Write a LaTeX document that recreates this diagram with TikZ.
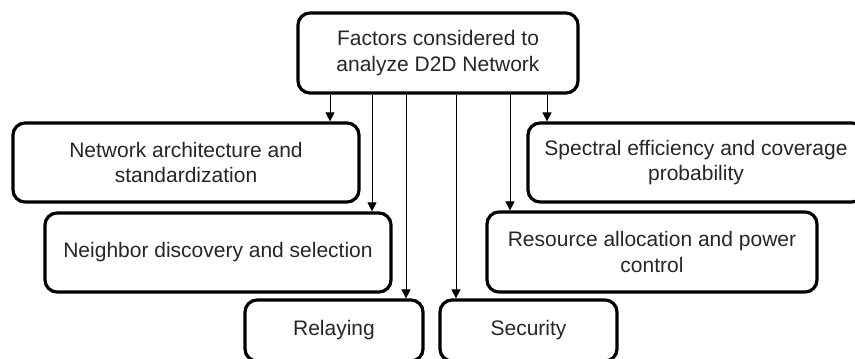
\documentclass[tikz,border=0pt]{standalone}
\usepackage{fontspec}
\setmainfont{Liberation Sans}
\usetikzlibrary{arrows.meta}
\begin{document}
\begin{tikzpicture}[x=1pt,y=-1pt,
  box/.style={draw=black, line width=3.2pt, rounded corners=12pt, align=center,
    font=\fontsize{21}{25.5}\selectfont, text=black!85, inner sep=0pt},
  arr/.style={line width=1pt, -{Triangle[length=9pt,width=9pt]}}]
\useasboundingbox (0,0) rectangle (855,359);
\clip (0,0) rectangle (855,359);
\node[box, minimum width=280pt, minimum height=80pt] (top) at (438,53) {Factors considered to\\analyze D2D Network};
\node[box, minimum width=346pt, minimum height=79pt] (na) at (186,162.5) {Network architecture and\\standardization};
\node[box, minimum width=346pt, minimum height=79pt] (nd) at (218,252.5) {Neighbor discovery and selection};
\node[box, minimum width=178pt, minimum height=61pt] (rel) at (334,330.5) {Relaying};
\node[box, minimum width=336pt, minimum height=79pt] (se) at (696,162.5) {Spectral efficiency and coverage\\probability};
\node[box, minimum width=330pt, minimum height=80pt] (ra) at (652,252) {Resource allocation and power\\control};
\node[box, minimum width=177pt, minimum height=61pt] (sec) at (528.5,330.5) {Security};
\path (top.south) ++(-108,0) coordinate (a1)
      (top.south) ++(-66,0) coordinate (a2)
      (top.south) ++(-32,0) coordinate (a3)
      (top.south) ++(18,0) coordinate (a4)
      (top.south) ++(72,0) coordinate (a5)
      (top.south) ++(109,0) coordinate (a6);
\draw[arr] (a1) -- (a1 |- na.north);
\draw[arr] (a2) -- (a2 |- nd.north);
\draw[arr] (a3) -- (a3 |- rel.north);
\draw[arr] (a4) -- (a4 |- sec.north);
\draw[arr] (a5) -- (a5 |- ra.north);
\draw[arr] (a6) -- (a6 |- se.north);
\end{tikzpicture}
\end{document}
